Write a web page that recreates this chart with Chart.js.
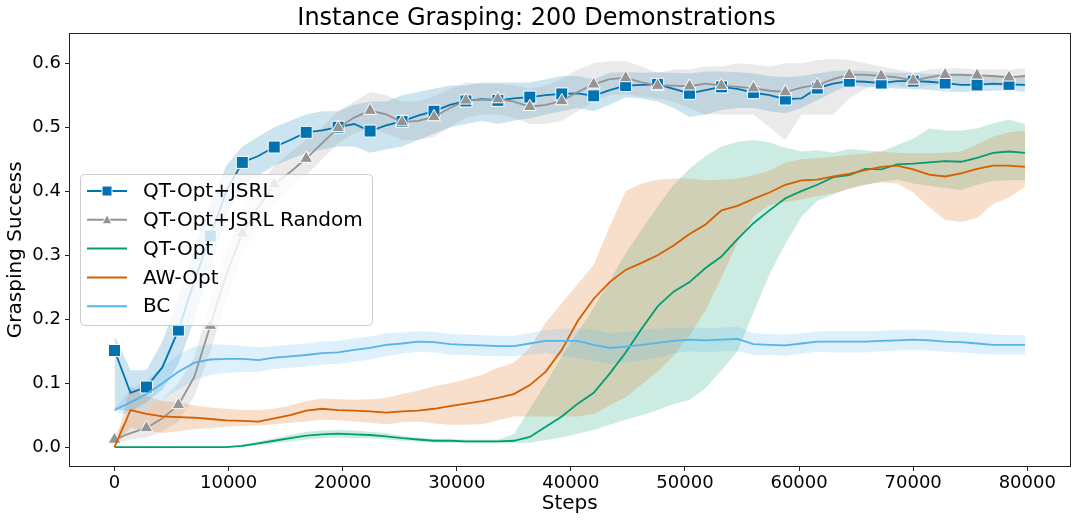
<!DOCTYPE html>
<html>
<head>
<meta charset="utf-8">
<script src="https://cdn.jsdelivr.net/npm/chart.js@4.4.0/dist/chart.umd.min.js"></script>
<style>
html, body { margin: 0; padding: 0; background: #fff; }
</style>
</head>
<body>
<canvas id="graficoGrasping" width="1080" height="523"></canvas>
<script>
// grade de passos (uma medida a cada 1400 steps, marcador a cada 2)
var steps = Array.from({ length: 58 }, (_, i) => i * 1400);
var xTicks = [0, 10000, 20000, 30000, 40000, 50000, 60000, 70000, 80000];
var yTicks = [0.0, 0.1, 0.2, 0.3, 0.4, 0.5, 0.6];

var nomesSeries = ['QT-Opt+JSRL', 'QT-Opt+JSRL Random', 'QT-Opt', 'AW-Opt', 'BC'];
var cores = ['#0173b2', '#949494', '#029e73', '#d55e00', '#56b4e9'];

var jsrl = [0.151, 0.085, 0.094, 0.125, 0.183, 0.26, 0.33, 0.40, 0.445, 0.455,
    0.469, 0.48, 0.492, 0.495, 0.500, 0.505, 0.494, 0.503, 0.509, 0.518,
    0.525, 0.535, 0.541, 0.544, 0.542, 0.545, 0.547, 0.55, 0.552, 0.553,
    0.549, 0.558, 0.565, 0.566, 0.567, 0.56, 0.553, 0.558, 0.563, 0.56,
    0.554, 0.55, 0.544, 0.545, 0.561, 0.568, 0.572, 0.571, 0.569, 0.572,
    0.572, 0.571, 0.569, 0.566, 0.566, 0.568, 0.567, 0.566];
var jsrlLo = [0.06, 0.055, 0.07, 0.09, 0.13, 0.2, 0.28, 0.36, 0.41, 0.425,
    0.44, 0.45, 0.46, 0.465, 0.47, 0.47, 0.46, 0.465, 0.47, 0.48,
    0.49, 0.5, 0.505, 0.51, 0.505, 0.51, 0.514, 0.52, 0.525, 0.53,
    0.525, 0.535, 0.547, 0.545, 0.54, 0.53, 0.516, 0.52, 0.527, 0.53,
    0.53, 0.525, 0.522, 0.53, 0.542, 0.555, 0.566, 0.563, 0.563, 0.56,
    0.56, 0.558, 0.556, 0.555, 0.556, 0.557, 0.558, 0.555];
var jsrlHi = [0.175, 0.12, 0.12, 0.165, 0.235, 0.31, 0.38, 0.44, 0.47, 0.485,
    0.5, 0.51, 0.52, 0.525, 0.525, 0.535, 0.54, 0.54, 0.55, 0.555,
    0.56, 0.565, 0.565, 0.57, 0.57, 0.57, 0.57, 0.575, 0.58, 0.58,
    0.575, 0.585, 0.586, 0.585, 0.586, 0.585, 0.584, 0.587, 0.587, 0.586,
    0.584, 0.58, 0.578, 0.58, 0.584, 0.588, 0.589, 0.588, 0.586, 0.585,
    0.585, 0.583, 0.583, 0.582, 0.578, 0.58, 0.581, 0.578];

var jsrlRandom = [0.012, 0.022, 0.03, 0.045, 0.066, 0.11, 0.19, 0.27, 0.334, 0.375,
    0.411, 0.43, 0.451, 0.475, 0.499, 0.515, 0.526, 0.52, 0.508, 0.51,
    0.516, 0.53, 0.542, 0.543, 0.544, 0.54, 0.532, 0.535, 0.541, 0.555,
    0.567, 0.575, 0.577, 0.57, 0.565, 0.565, 0.564, 0.568, 0.565, 0.563,
    0.561, 0.557, 0.555, 0.562, 0.566, 0.575, 0.582, 0.582, 0.58, 0.578,
    0.573, 0.578, 0.582, 0.582, 0.581, 0.58, 0.578, 0.58];
var randomLo = [0.005, 0.012, 0.015, 0.025, 0.04, 0.08, 0.15, 0.23, 0.3, 0.345,
    0.38, 0.405, 0.425, 0.45, 0.475, 0.49, 0.5, 0.49, 0.48, 0.48,
    0.485, 0.5, 0.515, 0.52, 0.52, 0.515, 0.505, 0.505, 0.51, 0.525,
    0.54, 0.55, 0.552, 0.548, 0.545, 0.54, 0.53, 0.52, 0.52, 0.52,
    0.52, 0.5, 0.48, 0.52, 0.52, 0.52, 0.545, 0.56, 0.565, 0.565,
    0.56, 0.565, 0.568, 0.568, 0.566, 0.565, 0.563, 0.565];
var randomHi = [0.02, 0.05, 0.06, 0.075, 0.1, 0.14, 0.23, 0.31, 0.37, 0.405,
    0.44, 0.46, 0.48, 0.5, 0.525, 0.54, 0.555, 0.55, 0.54, 0.54,
    0.548, 0.56, 0.57, 0.568, 0.568, 0.565, 0.56, 0.565, 0.575, 0.59,
    0.6, 0.603, 0.603, 0.595, 0.585, 0.59, 0.59, 0.595, 0.595, 0.6,
    0.598, 0.595, 0.6, 0.6, 0.605, 0.607, 0.605, 0.6, 0.595, 0.59,
    0.585, 0.59, 0.592, 0.592, 0.59, 0.59, 0.59, 0.592];

var qtOpt = [0, 0, 0, 0, 0, 0, 0, 0, 0.002, 0.006,
    0.01, 0.014, 0.018, 0.02, 0.021, 0.02, 0.019, 0.017, 0.014, 0.012,
    0.01, 0.01, 0.009, 0.009, 0.009, 0.01, 0.016, 0.032, 0.048, 0.068,
    0.085, 0.115, 0.148, 0.185, 0.22, 0.243, 0.258, 0.28, 0.298, 0.325,
    0.35, 0.37, 0.389, 0.4, 0.41, 0.422, 0.425, 0.435, 0.434, 0.442,
    0.443, 0.445, 0.447, 0.446, 0.452, 0.46, 0.462, 0.46];
var qtLo = [0, 0, 0, 0, 0, 0, 0, 0, 0, 0.003,
    0.006, 0.009, 0.012, 0.014, 0.015, 0.014, 0.014, 0.012, 0.01, 0.009,
    0.007, 0.007, 0.006, 0.006, 0.006, 0.006, 0.007, 0.011, 0.015, 0.021,
    0.027, 0.035, 0.043, 0.05, 0.058, 0.067, 0.074, 0.092, 0.12, 0.15,
    0.21, 0.27, 0.318, 0.36, 0.385, 0.395, 0.405, 0.41, 0.415, 0.418,
    0.412, 0.408, 0.405, 0.402, 0.41, 0.416, 0.417, 0.417];
var qtHi = [0, 0, 0, 0, 0, 0, 0, 0, 0.004, 0.009,
    0.014, 0.019, 0.024, 0.026, 0.027, 0.026, 0.024, 0.022, 0.018, 0.015,
    0.013, 0.013, 0.012, 0.012, 0.012, 0.02, 0.06, 0.1, 0.142, 0.18,
    0.218, 0.26, 0.303, 0.34, 0.376, 0.41, 0.435, 0.455, 0.47, 0.477,
    0.48, 0.476, 0.468, 0.462, 0.464, 0.46, 0.466, 0.464, 0.462, 0.472,
    0.482, 0.498, 0.495, 0.495, 0.498, 0.506, 0.512, 0.505];

var awOpt = [0, 0.058, 0.052, 0.048, 0.047, 0.046, 0.044, 0.042, 0.041, 0.04,
    0.045, 0.05, 0.057, 0.06, 0.058, 0.057, 0.056, 0.054, 0.056, 0.057,
    0.06, 0.064, 0.068, 0.072, 0.077, 0.083, 0.097, 0.118, 0.152, 0.197,
    0.232, 0.258, 0.277, 0.288, 0.3, 0.315, 0.333, 0.348, 0.37, 0.377,
    0.388, 0.398, 0.41, 0.417, 0.418, 0.423, 0.427, 0.433, 0.438, 0.44,
    0.434, 0.426, 0.423, 0.428, 0.435, 0.44, 0.44, 0.438];
var awLo = [0, 0.03, 0.025, 0.022, 0.025, 0.028, 0.03, 0.032, 0.033, 0.034,
    0.036, 0.038, 0.04, 0.043, 0.042, 0.04, 0.038, 0.036, 0.039, 0.04,
    0.037, 0.035, 0.035, 0.036, 0.042, 0.048, 0.048, 0.048, 0.048, 0.048,
    0.052, 0.065, 0.078, 0.098, 0.118, 0.143, 0.175, 0.214, 0.265, 0.32,
    0.36, 0.378, 0.383, 0.387, 0.392, 0.397, 0.403, 0.41, 0.414, 0.412,
    0.398, 0.375, 0.355, 0.352, 0.358, 0.38, 0.39, 0.407];
var awHi = [0, 0.095, 0.08, 0.072, 0.07, 0.065, 0.062, 0.06, 0.058, 0.058,
    0.06, 0.065, 0.072, 0.076, 0.075, 0.074, 0.075, 0.077, 0.083, 0.088,
    0.095, 0.1, 0.106, 0.113, 0.124, 0.132, 0.155, 0.195, 0.225, 0.255,
    0.285, 0.345, 0.4, 0.412, 0.418, 0.42, 0.42, 0.417, 0.418, 0.42,
    0.425, 0.432, 0.445, 0.45, 0.452, 0.454, 0.457, 0.459, 0.462, 0.46,
    0.459, 0.459, 0.46, 0.462, 0.473, 0.485, 0.492, 0.495];

var bc = [0.058, 0.07, 0.083, 0.1, 0.118, 0.132, 0.137, 0.138, 0.138, 0.136,
    0.14, 0.142, 0.144, 0.147, 0.148, 0.152, 0.155, 0.16, 0.162, 0.165,
    0.164, 0.161, 0.16, 0.159, 0.158, 0.158, 0.162, 0.166, 0.166, 0.166,
    0.16, 0.155, 0.157, 0.16, 0.163, 0.166, 0.168, 0.167, 0.168, 0.169,
    0.161, 0.16, 0.159, 0.162, 0.165, 0.165, 0.165, 0.165, 0.166, 0.167,
    0.168, 0.167, 0.165, 0.164, 0.162, 0.16, 0.16, 0.16];
var bcLo = [0.055, 0.05, 0.06, 0.075, 0.09, 0.105, 0.113, 0.116, 0.118, 0.118,
    0.122, 0.124, 0.126, 0.129, 0.13, 0.134, 0.137, 0.142, 0.146, 0.149,
    0.148, 0.145, 0.144, 0.143, 0.142, 0.142, 0.145, 0.147, 0.142, 0.14,
    0.135, 0.13, 0.132, 0.136, 0.14, 0.146, 0.15, 0.148, 0.15, 0.15,
    0.144, 0.144, 0.143, 0.146, 0.149, 0.148, 0.148, 0.148, 0.15, 0.151,
    0.152, 0.151, 0.149, 0.148, 0.146, 0.145, 0.145, 0.145];
var bcHi = [0.06, 0.09, 0.105, 0.125, 0.145, 0.157, 0.161, 0.16, 0.158, 0.156,
    0.158, 0.16, 0.162, 0.165, 0.166, 0.17, 0.173, 0.178, 0.179, 0.181,
    0.18, 0.177, 0.176, 0.175, 0.174, 0.174, 0.178, 0.183, 0.185, 0.186,
    0.184, 0.178, 0.18, 0.183, 0.185, 0.186, 0.187, 0.186, 0.187, 0.188,
    0.178, 0.177, 0.176, 0.178, 0.181, 0.181, 0.181, 0.181, 0.182, 0.183,
    0.184, 0.183, 0.181, 0.18, 0.178, 0.176, 0.175, 0.175];

var medias = [jsrl, jsrlRandom, qtOpt, awOpt, bc];
var inferiores = [jsrlLo, randomLo, qtLo, awLo, bcLo];
var superiores = [jsrlHi, randomHi, qtHi, awHi, bcHi];

Chart.defaults.font.family = '"DejaVu Sans", sans-serif';
Chart.defaults.color = '#000';

function pontos(valores) {
    return valores.map((v, i) => ({ x: steps[i], y: v }));
}

function comAlpha(hex, a) {
    var r = parseInt(hex.slice(1, 3), 16), g = parseInt(hex.slice(3, 5), 16), b = parseInt(hex.slice(5, 7), 16);
    return `rgba(${r},${g},${b},${a})`;
}

// bandas primeiro (ficam por baixo, como no matplotlib), depois as linhas
var datasets = [];
for (var k = 0; k < medias.length; k++) {
    datasets.push({
        data: pontos(inferiores[k]), borderColor: 'transparent', borderWidth: 0,
        pointRadius: 0, fill: false
    });
    datasets.push({
        data: pontos(superiores[k]), borderColor: 'transparent', borderWidth: 0,
        pointRadius: 0, fill: '-1', backgroundColor: comAlpha(cores[k], 0.2)
    });
}
for (var k = 0; k < medias.length; k++) {
    var ds = {
        label: nomesSeries[k], data: pontos(medias[k]), borderColor: cores[k],
        borderWidth: 1.8, pointRadius: 0, fill: false, tension: 0
    };
    if (k === 0) {
        ds.pointStyle = 'rect';
        ds.pointRadius = c => (c.dataIndex % 2 === 0 ? 8.5 : 0);
    } else if (k === 1) {
        ds.pointStyle = 'triangle';
        ds.pointRadius = c => (c.dataIndex % 2 === 0 ? 7.5 : 0);
    }
    ds.pointBackgroundColor = cores[k];
    ds.pointBorderColor = '#fff';
    ds.pointBorderWidth = 1;
    datasets.push(ds);
}
datasets.forEach((d, i) => { d.order = 100 - i; });

var moldura = {
    id: 'moldura',
    afterDatasetsDraw(chart) {
        var a = chart.chartArea, ctx = chart.ctx;
        ctx.save();
        ctx.strokeStyle = '#222';
        ctx.lineWidth = 1;
        var l = Math.round(a.left) + 0.5, t = Math.round(a.top) + 0.5;
        var r = Math.round(a.right) - 0.5, b = Math.round(a.bottom) - 0.5;
        ctx.strokeRect(l, t, r - l, b - t);
        ctx.restore();
    }
};

var legenda = {
    id: 'legendaInterna',
    afterDatasetsDraw(chart) {
        var ctx = chart.ctx;
        ctx.save();
        ctx.beginPath();
        ctx.roundRect(80.5, 174.5, 292, 151, 4);
        ctx.fillStyle = 'rgba(255,255,255,0.8)';
        ctx.fill();
        ctx.strokeStyle = '#cccccc';
        ctx.lineWidth = 1;
        ctx.stroke();
        ctx.font = '20px "DejaVu Sans"';
        ctx.textBaseline = 'middle';
        for (var i = 0; i < nomesSeries.length; i++) {
            var y = 191 + i * 28.8;
            ctx.strokeStyle = cores[i];
            ctx.lineWidth = 2;
            ctx.beginPath();
            ctx.moveTo(87, y);
            ctx.lineTo(127, y);
            ctx.stroke();
            ctx.fillStyle = cores[i];
            ctx.strokeStyle = '#fff';
            ctx.lineWidth = 1;
            if (i === 0) {
                ctx.fillRect(102, y - 5, 10, 10);
                ctx.strokeRect(102, y - 5, 10, 10);
            } else if (i === 1) {
                ctx.beginPath();
                ctx.moveTo(107, y - 5);
                ctx.lineTo(112, y + 4);
                ctx.lineTo(102, y + 4);
                ctx.closePath();
                ctx.fill();
                ctx.stroke();
            }
            ctx.fillStyle = '#000';
            ctx.fillText(nomesSeries[i], 143, y + 1);
        }
        ctx.restore();
    }
};

new Chart(document.getElementById('graficoGrasping'), {
    type: 'line',
    data: { datasets: datasets },
    options: {
        responsive: false,
        animation: false,
        events: [],
        layout: { padding: { left: 0, right: 7, top: 0, bottom: 0 } },
        plugins: {
            legend: { display: false },
            tooltip: { enabled: false },
            title: {
                display: true,
                text: 'Instance Grasping: 200 Demonstrations',
                font: { size: 24, weight: 'normal', lineHeight: 1.15 },
                padding: { top: 4.9, bottom: 0 },
                color: '#000'
            }
        },
        scales: {
            x: {
                type: 'linear',
                min: -3990,
                max: 83790,
                afterBuildTicks: s => { s.ticks = xTicks.map(v => ({ value: v })); },
                afterFit: s => { s.height = 56; },
                ticks: { font: { size: 18 }, padding: 2, maxRotation: 0, autoSkip: false, callback: v => String(v) },
                grid: { drawOnChartArea: false, drawTicks: true, tickLength: 4, tickColor: '#222' },
                border: { display: false },
                title: { display: true, text: 'Steps', font: { size: 20 }, padding: { top: 0, bottom: 7 } }
            },
            y: {
                min: -0.031,
                max: 0.648,
                afterBuildTicks: s => { s.ticks = yTicks.map(v => ({ value: v })); },
                afterFit: s => { s.width = 69; },
                ticks: { font: { size: 18 }, padding: 4, callback: v => Number(v).toFixed(1) },
                grid: { drawOnChartArea: false, drawTicks: true, tickLength: 4, tickColor: '#222' },
                border: { display: false },
                title: { display: true, text: 'Grasping Success', font: { size: 20 }, padding: { top: 4, bottom: 0 } }
            }
        }
    },
    plugins: [moldura, legenda]
});
</script>
</body>
</html>
